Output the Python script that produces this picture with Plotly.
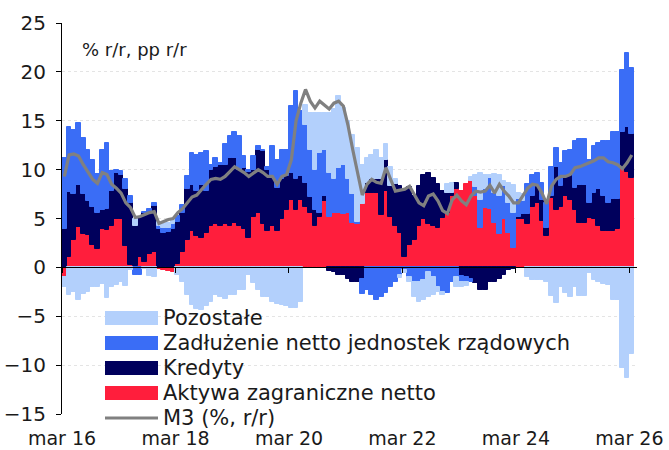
import plotly.graph_objects as go

# Monthly data, Mar 2016 - Mar 2026
aktywa = [-1.0, 1.1, 2.8, 4.1, 3.4, 3.3, 2.3, 1.9, 3.9, 3.8, 4.2, 4.9, 4.9, 2.2, 0.2, 0.1, 1.1, 0.6, 1.4, 1.6,
          -0.2, -0.3, -0.4, -0.5, 0.3, 1.6, 2.8, 3.7, 3.2, 3.0, 3.5, 4.2, 4.4, 4.2, 4.4, 4.2, 4.5, 4.2, 3.9, 3.0,
          5.2, 5.6, 4.4, 3.7, 4.2, 3.7, 4.9, 5.9, 6.9, 5.9, 6.9, 6.2, 5.6, 4.2, 5.2, 6.8, 5.2, 5.6, 5.6, 5.5,
          5.6, 4.5, 4.4, 6.5, 7.6, 7.6, 7.6, 5.4, 7.8, 5.2, 4.2, 3.5, 1.1, 2.3, 2.8, 4.2, 4.9, 4.4, 4.2, 4.0,
          5.1, 5.6, 7.3, 8.0, 7.8, 8.5, 8.8, 7.3, 4.0, 6.1, 6.0, 4.5, 3.4, 5.0, 3.5, 2.0, 5.0, 5.0, 4.4, 6.2,
          6.6, 4.7, 3.2, 7.1, 5.9, 6.2, 7.3, 6.9, 5.9, 4.5, 4.5, 5.1, 4.9, 4.2, 3.7, 3.7, 3.7, 3.9, 10.3, 9.8,
          9.1]
kredyty = [3.9, 6.6, 4.7, 4.3, 4.1, 3.5, 3.9, 3.7, 2.0, 2.2, 3.6, 4.8, 4.6, 5.8, 6.4, 4.1, 4.1, 5.0, 4.3, 4.7,
           3.9, 3.5, 3.6, 3.9, 4.3, 4.0, 5.2, 4.7, 4.6, 5.4, 4.3, 5.8, 5.9, 6.3, 6.1, 7.0, 6.7, 5.8, 6.3, 6.8,
           4.8, 6.4, 7.5, 6.3, 5.1, 4.4, 4.1, 3.4, 2.8, 3.1, 2.4, 2.4, 1.6, 1.7, 0.4, 0.5, -0.4, -0.5, -0.8, -0.8,
           -1.2, -1.5, -1.5, -1.2, 1.0, 1.4, 1.4, 3.6, 3.2, 3.1, 4.3, 4.8, 6.9, 5.9, 4.5, 4.1, 4.6, 5.3, 4.9, 4.5,
           2.7, 2.0, 0.3, 0.6, -0.9, -1.0, -1.2, -1.6, -2.3, -2.3, -1.5, -1.5, -1.2, -0.8, -0.3, -0.2, 0.2, 0.5, 1.1, 1.1,
           1.7, 2.2, 0.8, 0.2, 4.4, 2.1, 2.0, 2.7, 2.2, 3.9, 3.9, 1.5, 2.7, 3.8, 3.6, 2.9, 3.3, 3.1, 3.5, 4.6,
           4.5]
zadluzenie = [7.3, 6.7, 6.6, 6.4, 5.7, 5.2, 4.8, 4.0, 6.1, 6.7, 2.1, 0.3, 0.4, 1.0, 0.7, -0.8, -0.8, 0.1, 0.3, 0.3,
              0.3, 0.5, 0.4, 0.5, 0.7, 0.8, 1.3, 3.3, 3.7, 3.3, 4.1, 0.5, 0.9, 0.2, 2.1, 2.2, 2.6, 3.4, 1.2, 0.2,
              1.4, 0.4, 0.1, 0.3, 3.1, 2.9, 3.0, 2.7, 6.8, 9.0, 6.7, 6.0, 4.8, 4.1, 6.1, 4.7, 4.5, 3.4, 4.6, 5.0,
              3.4, 3.0, 0.2, -1.5, -2.3, -2.8, -3.3, -3.0, -2.6, -2.0, -1.5, -0.8, -0.3, -1.0, -1.5, -1.5, -1.3, -0.5, -1.0, -2.0,
              -2.5, -2.6, -1.5, -1.0, -0.6, -0.5, -0.3, 0.9, 2.9, 1.9, 3.1, 3.1, 3.9, 3.3, 3.1, 3.6, 1.8, 1.3, 3.0, 2.2,
              1.4, 1.7, 2.6, 3.0, 1.9, 2.4, 2.6, 2.4, 4.8, 4.7, 4.7, 4.4, 4.8, 4.7, 5.6, 6.3, 6.9, 6.8, 6.4, 7.5,
              6.8]
pozostale = [-1.0, -2.8, -2.5, -3.3, -2.7, -2.5, -2.0, -2.0, -1.7, -3.1, -2.0, -1.8, -1.5, -1.9, -0.3, 0.7, 0.0, -0.2, -0.9, -1.0,
             0.4, 0.4, 0.5, 0.5, -0.8, -1.5, -2.8, -3.8, -4.3, -4.4, -4.0, -3.5, -2.8, -3.0, -3.2, -2.8, -2.8, -2.3, -2.3, -0.8,
             -1.6, -2.3, -3.0, -3.0, -3.5, -3.7, -3.8, -4.0, -4.2, -4.2, -3.5, 2.0, 3.8, 5.8, 4.1, 3.8, 6.1, 7.2, 7.3, 5.8,
             6.0, 6.0, 7.6, 4.0, 2.6, 2.5, 3.0, 2.2, 1.6, 2.0, 0.5, -0.3, -0.3, -0.5, -1.5, -2.0, -2.0, -2.5, -1.8, -0.5,
             -0.3, 0.9, 1.0, -1.0, -0.5, -0.4, 0.4, 1.3, 2.8, 1.4, 0.4, 2.0, 2.2, 0.5, 2.0, 2.8, 0.6, 0.7, -1.0, -1.3,
             -1.3, -1.3, -1.5, -2.9, -3.6, -2.0, -2.6, -3.0, -2.0, -2.9, -2.9, -0.6, -1.3, -1.5, -1.7, -1.8, -3.3, -3.3, -10.3, -11.3,
             -8.9]
m3 = [9.3, 11.5, 11.6, 11.4, 10.5, 9.7, 9.0, 8.6, 9.7, 9.5, 8.5, 8.1, 7.6, 6.6, 6.1, 5.1, 5.2, 5.4, 5.6, 5.7,
      4.5, 4.7, 4.9, 5.0, 5.6, 6.0, 6.6, 7.2, 7.4, 8.0, 8.5, 9.0, 9.1, 9.0, 9.3, 9.8, 10.3, 10.0, 9.7, 9.3,
      9.7, 10.0, 9.7, 9.3, 9.3, 8.5, 9.3, 9.5, 11.0, 15.0, 16.8, 18.2, 17.0, 16.3, 17.0, 16.6, 16.2, 16.8, 17.0, 16.5,
      14.5, 12.0, 9.5, 7.4, 8.5, 9.0, 8.7, 8.6, 10.2, 9.0, 7.8, 7.9, 8.0, 8.3, 7.4, 6.6, 6.3, 7.3, 7.5, 6.8,
      5.8, 5.5, 6.9, 7.4, 6.8, 6.4, 7.3, 7.8, 7.7, 7.8, 8.4, 7.6, 8.5, 7.8, 7.3, 6.6, 6.6, 7.4, 8.1, 8.5,
      8.4, 7.6, 6.5, 8.3, 9.0, 9.3, 9.3, 9.5, 10.2, 10.3, 10.5, 10.7, 10.9, 11.2, 11.2, 10.8, 10.7, 10.5, 10.1, 10.7,
      11.5]

tick_labels = ["mar 16", "mar 18", "mar 20", "mar 22", "mar 24", "mar 26"]
y_ticks = [25, 20, 15, 10, 5, 0, -5, -10, -15]

colors = {"Pozostałe": "#B3D0FC", "Zadłużenie netto jednostek rządowych": "#3A6DF6",
          "Kredyty": "#00005C", "Aktywa zagraniczne netto": "#FF1E3C", "M3 (%, r/r)": "#808080"}

n = len(m3)
x = [i + 0.5 for i in range(n)]
tick_pos = [24 * k for k in range(len(tick_labels))]

FONT = "DejaVu Sans"
TXT = "#1a1a1a"
fig = go.Figure()
for name, vals in [("Aktywa zagraniczne netto", aktywa), ("Kredyty", kredyty),
                   ("Zadłużenie netto jednostek rządowych", zadluzenie), ("Pozostałe", pozostale)]:
    fig.add_trace(go.Bar(x=x, y=vals, name=name, width=1.0,
                         marker=dict(color=colors[name], line=dict(width=1, color=colors[name]))))
fig.add_trace(go.Scatter(x=x, y=m3, name="M3 (%, r/r)", mode="lines",
                         line=dict(color=colors["M3 (%, r/r)"], width=3.2)))

W, H = 669, 450
ml, mr, mt, mb = 62, 32, 23, 36
pw, ph = W - ml - mr, H - mt - mb

fig.update_layout(
    width=W, height=H, barmode="relative", bargap=0, showlegend=False,
    paper_bgcolor="white", plot_bgcolor="white",
    margin=dict(l=ml, r=mr, t=mt, b=mb, autoexpand=False),
    font=dict(family=FONT, size=19, color=TXT),
    xaxis=dict(range=[0, n + 0.6], tickvals=tick_pos, ticktext=tick_labels, showgrid=False,
               zeroline=False, showline=False, ticks="", ticklabelstandoff=11, automargin=False,
               tickfont=dict(size=19)),
    xaxis2=dict(range=[0, n + 0.6], overlaying="x", anchor="free", position=15 / 40,
                tickvals=tick_pos, showticklabels=False, ticks="outside", ticklen=5,
                tickcolor="black", showline=True, linecolor="black", linewidth=1,
                showgrid=False, zeroline=False, automargin=False),
    yaxis=dict(range=[-15, 25], tickvals=y_ticks, showline=True, linecolor="black", linewidth=1,
               ticks="outside", ticklen=5, tickcolor="black", zeroline=False, automargin=False,
               showgrid=True, gridcolor="#e4e4e4", griddash="dot", gridwidth=1,
               tickfont=dict(size=20), ticklabelstandoff=6),
)
# invisible trace so that the zero-line axis (xaxis2) is rendered
fig.add_trace(go.Scatter(x=[0], y=[0], xaxis="x2", mode="markers", marker=dict(opacity=0),
                         hoverinfo="skip", showlegend=False))

fig.add_annotation(text="% r/r, pp r/r", xref="paper", yref="paper",
                   x=(80 - ml) / pw, y=(H - mb - 50) / ph, xanchor="left", yanchor="middle",
                   showarrow=False, font=dict(size=18))

# custom legend with wide swatches
legend_rows = [("Pozostałe", "box"), ("Zadłużenie netto jednostek rządowych", "box"),
               ("Kredyty", "box"), ("Aktywa zagraniczne netto", "box"), ("M3 (%, r/r)", "line")]
row_y0, row_dy = 318, 25
sx0, sx1, tx = 105, 158, 161
for k, (name, kind) in enumerate(legend_rows):
    yc = row_y0 + k * row_dy
    yp = (H - mb - yc) / ph
    if kind == "box":
        fig.add_shape(type="rect", xref="paper", yref="paper",
                      x0=(sx0 - ml) / pw, x1=(sx1 - ml) / pw,
                      y0=yp - 7 / ph, y1=yp + 7 / ph,
                      fillcolor=colors[name], line=dict(width=0), layer="above")
    else:
        fig.add_shape(type="line", xref="paper", yref="paper",
                      x0=(sx0 - ml) / pw, x1=(sx1 - ml) / pw, y0=yp, y1=yp,
                      line=dict(color=colors[name], width=3), layer="above")
    fig.add_annotation(text=name, xref="paper", yref="paper", x=(tx - ml) / pw, y=yp,
                       xanchor="left", yanchor="middle", showarrow=False, font=dict(size=21))

fig.write_html("out.html", config={"displayModeBar": False},
               post_script="document.body.style.margin='0';")
